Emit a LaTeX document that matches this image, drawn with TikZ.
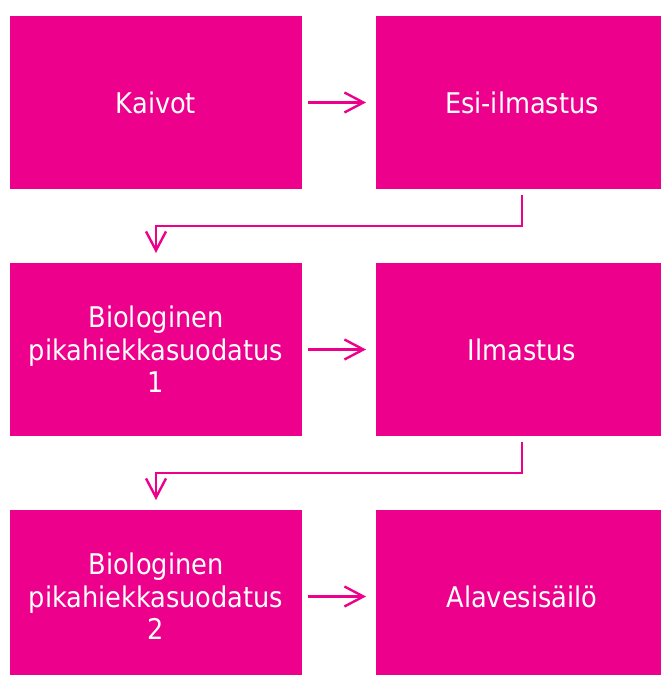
\documentclass[tikz,border=0pt]{standalone}
\usepackage{fontspec}
\setmainfont{DejaVu Sans Condensed}
\usetikzlibrary{arrows.meta}
\definecolor{mag}{RGB}{236,0,140}
\begin{document}
\begin{tikzpicture}[x=1pt,y=1pt,
  box/.style={fill=mag, draw=none, minimum width=292pt, minimum height=173pt, inner sep=0pt, outer sep=0pt,
    text=white, text width=286pt, align=center, font=\fontsize{28.5}{32.5}\selectfont},
  arr/.style={draw=mag, line width=2.4pt, -{Straight Barb[length=19pt,width=20pt,line width=2.4pt]}, shorten <=6pt, shorten >=10pt}]
\useasboundingbox (0,0) rectangle (661,675);
\clip (0,0) rectangle (661,675);
\node[box] (a) at (156,572.5) {Kaivot};
\node[box] (b) at (522,572.5) {Esi-ilmastus};
\node[box] (c) at (156,325.5) {Biologinen\\pikahiekkasuodatus\\1};
\node[box] (d) at (522,325.5) {Ilmastus};
\node[box] (e) at (156,78.5) {Biologinen\\pikahiekkasuodatus\\2};
\node[box] (f) at (522,78.5) {Alavesisäilö};
\draw[arr] (a) -- (b);
\draw[arr] (c) -- (d);
\draw[arr] (e) -- (f);
\draw[arr] (b.south) -- ++(0,-37) -| (c.north);
\draw[arr] (d.south) -- ++(0,-37) -| (e.north);
\end{tikzpicture}
\end{document}
